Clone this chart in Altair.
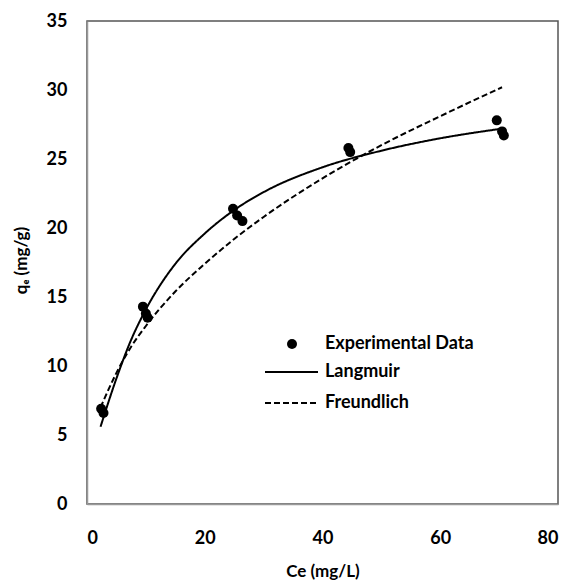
import altair as alt
import pandas as pd

# Experimental points
exp_ce = [2.4, 2.8, 9.5, 10.0, 10.3, 24.8, 25.5, 26.4, 44.4, 44.7, 69.6, 70.5, 70.8]
exp_qe = [6.9, 6.6, 14.3, 13.8, 13.5, 21.4, 20.9, 20.5, 25.8, 25.5, 27.8, 27.0, 26.7]

# Model curves
fit_ce = [2.3, 5, 7.5, 10, 15, 20, 25, 30, 40, 50, 60, 70.5]
langmuir_qe = [5.6, 9.1, 11.9, 14.1, 17.4, 19.6, 21.3, 22.6, 24.4, 25.6, 26.5, 27.2]
freundlich_qe = [7.0, 9.5, 11.4, 12.9, 15.4, 17.4, 19.2, 20.8, 23.6, 26.0, 28.1, 30.2]

point_label = "Experimental Data"
line_series = ["Langmuir", "Freundlich"]
x_ticks = [0, 20, 40, 60, 80]
y_ticks = [0, 5, 10, 15, 20, 25, 30, 35]

pts = pd.DataFrame({"ce": exp_ce, "qe": exp_qe, "kind": point_label})
curves = pd.concat([
    pd.DataFrame({"ce": fit_ce, "qe": langmuir_qe, "series": line_series[0]}),
    pd.DataFrame({"ce": fit_ce, "qe": freundlich_qe, "series": line_series[1]}),
])

FONT = "Lato"

x_enc = alt.X("ce:Q", scale=alt.Scale(domain=[0, 80], nice=False),
              axis=alt.Axis(values=x_ticks, title="Ce (mg/L)", grid=False, ticks=False,
                            labelPadding=25, titleX=235.5, titleY=67,
                            titleBaseline="middle", titleAlign="center"))
y_enc = alt.Y("qe:Q", scale=alt.Scale(domain=[0, 35], nice=False),
              axis=alt.Axis(values=y_ticks, title="qₑ (mg/g)", grid=False, ticks=False,
                            labelPadding=20, titleX=-66, titleY=239, titleAngle=270,
                            titleBaseline="middle", titleAlign="center"))

label_style = dict(labelFont=FONT, labelFontSize=18, labelFontWeight="bold", labelColor="black",
                   title=None, orient="none", padding=0)

points = alt.Chart(pts).mark_point(size=100, filled=True, color="black", opacity=1).encode(
    x=x_enc, y=y_enc,
    shape=alt.Shape("kind:N", scale=alt.Scale(domain=[point_label], range=["circle"]),
                    legend=alt.Legend(legendX=196, legendY=314, symbolSize=100,
                                      symbolFillColor="black", symbolStrokeWidth=0,
                                      labelOffset=24, **label_style)),
)

lines = alt.Chart(curves).mark_line(color="black", strokeWidth=2, interpolate="monotone").encode(
    x=x_enc, y=y_enc,
    strokeDash=alt.StrokeDash("series:N",
                              scale=alt.Scale(domain=line_series, range=[[1, 0], [6, 3]]),
                              legend=alt.Legend(legendX=177, legendY=341, symbolType="stroke",
                                                symbolSize=2809, symbolStrokeWidth=2,
                                                symbolStrokeColor="black", labelOffset=6,
                                                clipHeight=20, rowPadding=11, **label_style)),
)

chart = alt.layer(lines, points).properties(
    width=471, height=483,
    autosize=alt.AutoSizeParams(type="none"),
    padding={"left": 79, "top": 13, "right": 5, "bottom": 76},
).configure_view(
    stroke="#555", strokeWidth=1.5
).configure_axis(
    labelFont=FONT, labelFontSize=18, labelFontWeight="bold", labelColor="black",
    titleFont=FONT, titleFontSize=17, titleFontWeight="bold", titleColor="black",
    domainColor="#999", domainWidth=1.5,
)

chart.save("out.html", embed_options={"renderer": "svg", "actions": False})
